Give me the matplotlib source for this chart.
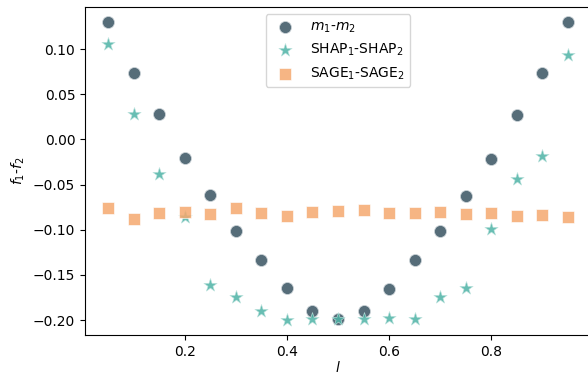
import numpy as np
import matplotlib.pyplot as plt

# values
l = [0.05, 0.10, 0.15, 0.20, 0.25, 0.30, 0.35, 0.40, 0.45, 0.50,
     0.55, 0.60, 0.65, 0.70, 0.75, 0.80, 0.85, 0.90, 0.95]
m_diff = [0.130, 0.074, 0.028, -0.021, -0.062, -0.101, -0.134, -0.165, -0.190, -0.199,
          -0.190, -0.166, -0.134, -0.101, -0.063, -0.022, 0.027, 0.074, 0.130]
shap_diff = [0.105, 0.028, -0.038, -0.086, -0.161, -0.174, -0.190, -0.200, -0.199, -0.199,
             -0.199, -0.198, -0.199, -0.174, -0.164, -0.099, -0.044, -0.018, 0.093]
sage_diff = [-0.076, -0.088, -0.081, -0.080, -0.083, -0.076, -0.081, -0.085, -0.080, -0.079,
             -0.078, -0.081, -0.081, -0.080, -0.083, -0.082, -0.085, -0.084, -0.086]

fig = plt.figure(figsize=(5.88, 3.77), dpi=100)
ax = fig.add_axes([85 / 588, 1 - 335 / 377, 506 / 588, 328 / 377])

ax.scatter(l, m_diff, s=75, marker="o", color="#435d6b", alpha=0.9,
           edgecolors="#cfd6da", linewidths=0.6, label="$m_1$-$m_2$")
ax.scatter(l, shap_diff, s=100, marker="*", color="#4db3a6", alpha=0.85,
           edgecolors="#bfe3de", linewidths=0.5, label="SHAP$_1$-SHAP$_2$")
ax.scatter(l, sage_diff, s=75, marker="s", color="#f5a86e", alpha=0.85,
           edgecolors="white", linewidths=0.5, label="SAGE$_1$-SAGE$_2$")

ax.set_xlabel("$l$", labelpad=1)
ax.set_ylabel("$f_1$-$f_2$")
ax.set_xticks([0.2, 0.4, 0.6, 0.8])
ax.set_yticks([0.10, 0.05, 0.00, -0.05, -0.10, -0.15, -0.20])
ax.legend(loc="upper center")

fig.savefig("out.png", dpi=100)
